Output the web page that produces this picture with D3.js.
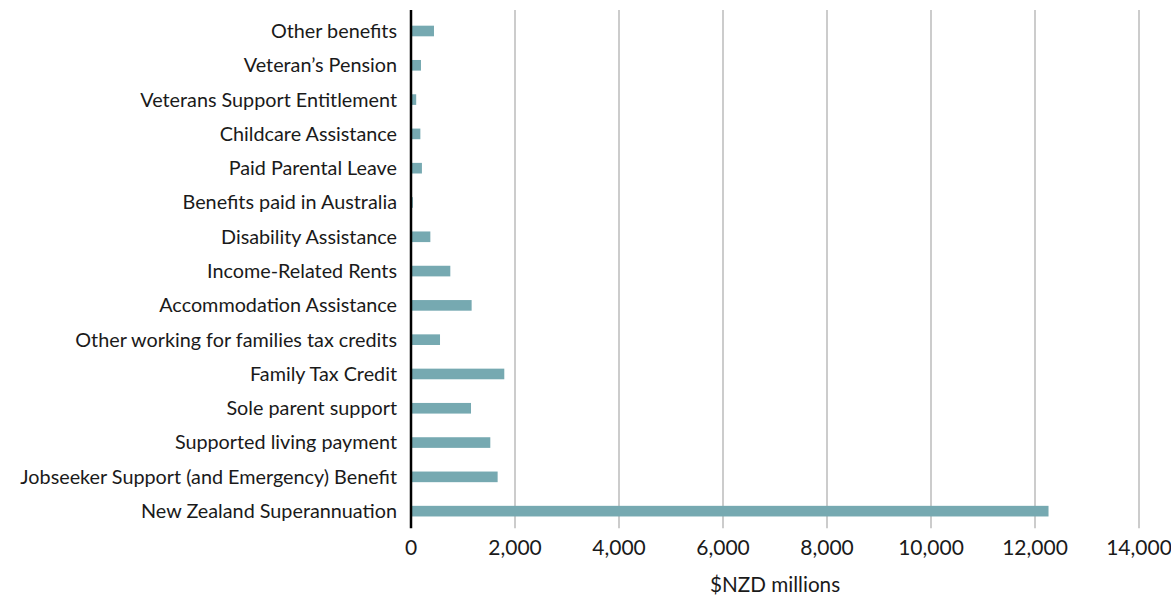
<!DOCTYPE html>
<html>
<head>
<meta charset="utf-8">
<script src="https://cdn.jsdelivr.net/npm/d3@7"></script>
<style>
  html, body { margin: 0; padding: 0; background: #fff; }
  svg { display: block; }
  text { font-family: Lato, "Open Sans", sans-serif; fill: #1a1a1a; }
</style>
</head>
<body>
<svg id="chart" width="1171" height="596"></svg>
<script>
// Benefit categories, top to bottom
const categories = [
  "Other benefits",
  "Veteran\u2019s Pension",
  "Veterans Support Entitlement",
  "Childcare Assistance",
  "Paid Parental Leave",
  "Benefits paid in Australia",
  "Disability Assistance",
  "Income-Related Rents",
  "Accommodation Assistance",
  "Other working for families tax credits",
  "Family Tax Credit",
  "Sole parent support",
  "Supported living payment",
  "Jobseeker Support (and Emergency) Benefit",
  "New Zealand Superannuation"
];

// Spending, $NZD millions
const spending = [442, 192, 100, 180, 210, 35, 372, 756, 1166, 558, 1794, 1154, 1525, 1666, 12260];

const xTicks = [0, 2000, 4000, 6000, 8000, 10000, 12000, 14000];
const xTitle = "$NZD millions";

const svg = d3.select("#chart");
const plotLeft = 411, plotRight = 1139, plotTop = 13.85, plotBottom = 528.3;

const x = d3.scaleLinear().domain([0, 14000]).range([plotLeft, plotRight]);
const y = d3.scaleBand().domain(categories).range([plotTop, plotBottom]).paddingInner(0.69).paddingOuter(0.345);

// Vertical gridlines
svg.append("g")
  .selectAll("line")
  .data(xTicks.filter(d => d > 0))
  .join("line")
  .attr("x1", d => x(d)).attr("x2", d => x(d))
  .attr("y1", 10).attr("y2", plotBottom)
  .attr("stroke", "#cccccc")
  .attr("stroke-width", 2);

// Bars
svg.append("g")
  .selectAll("rect")
  .data(categories.map((c, i) => ({ c, v: spending[i] })))
  .join("rect")
  .attr("x", x(0))
  .attr("y", d => y(d.c))
  .attr("width", d => x(d.v) - x(0))
  .attr("height", y.bandwidth())
  .attr("fill", "#76a9b1");

// Category axis line
svg.append("line")
  .attr("x1", x(0)).attr("x2", x(0))
  .attr("y1", 10).attr("y2", plotBottom)
  .attr("stroke", "#000")
  .attr("stroke-width", 2.5);

// Category labels
svg.append("g")
  .selectAll("text")
  .data(categories)
  .join("text")
  .attr("x", plotLeft - 14)
  .attr("y", d => y(d) + y.bandwidth() / 2)
  .attr("dy", "0.35em")
  .attr("text-anchor", "end")
  .attr("font-size", 19.8)
  .text(d => d);

// Value axis tick labels
svg.append("g")
  .selectAll("text")
  .data(xTicks)
  .join("text")
  .attr("x", d => x(d))
  .attr("y", 548)
  .attr("dy", "0.35em")
  .attr("text-anchor", "middle")
  .attr("font-size", 21)
  .text(d => d3.format(",")(d));

// Axis title
svg.append("text")
  .attr("x", (plotLeft + plotRight) / 2)
  .attr("y", 585)
  .attr("dy", "0.35em")
  .attr("text-anchor", "middle")
  .attr("font-size", 20.7)
  .text(xTitle);
</script>
</body>
</html>
